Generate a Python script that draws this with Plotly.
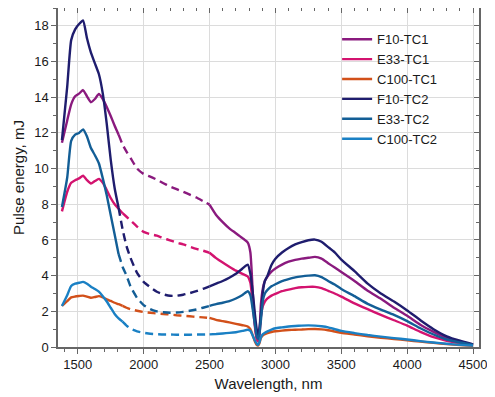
import plotly.graph_objects as go

# Wavelength grid (nm)
wavelength = [1380, 1420, 1450, 1480, 1510, 1540, 1570, 1600, 1630, 1660, 1690, 1720, 1750, 1780, 1810,
              1840, 1870, 1900, 1950, 2000, 2050, 2100, 2150, 2200, 2250, 2300, 2350, 2400, 2450, 2500,
              2550, 2600, 2650, 2700, 2750, 2790, 2810, 2830, 2845, 2858, 2868, 2878, 2890, 2905, 2920,
              2940, 2970, 3000, 3050, 3100, 3150, 3200, 3250, 3300, 3350, 3400, 3450, 3500, 3600, 3700,
              3800, 3900, 4000, 4100, 4200, 4300, 4400, 4500]

series_names = ["F10-TC1", "E33-TC1", "C100-TC1", "F10-TC2", "E33-TC2", "C100-TC2"]
series_colors = ["#8a1a7e", "#d3136f", "#d2501a", "#1f1d6e", "#135e96", "#1a80c4"]
# Interpolated (dashed) region for each series: from dash_start to dash_end
dash_start = [1810, 1840, 1840, 1810, 1810, 1840]
dash_end = 2500

f10_tc1 = [11.45, 12.7, 13.6, 14.05, 14.2, 14.4, 14.05, 13.72, 13.9, 14.18, 13.9, 13.45, 12.95, 12.4, 11.9,
           11.35, 10.95, 10.6, 10.0, 9.7, 9.55, 9.38, 9.18, 9.0, 8.85, 8.7, 8.54, 8.38, 8.18, 7.98,
           7.4, 7.0, 6.65, 6.38, 6.1, 5.85, 5.3, 2.8, 1.3, 0.5, 0.35, 0.7, 2.4, 3.3, 3.7,
           3.95, 4.22, 4.4, 4.62, 4.78, 4.88, 4.95, 5.0, 5.05, 4.95, 4.7, 4.45, 4.2, 3.7, 3.15,
           2.7, 2.2, 1.75, 1.25, 0.85, 0.5, 0.3, 0.15]

e33_tc1 = [7.6, 8.7, 9.2, 9.35, 9.45, 9.6, 9.35, 9.16, 9.3, 9.42, 9.2, 8.8, 8.35, 8.0, 7.75,
           7.5, 7.3, 7.1, 6.75, 6.45, 6.32, 6.24, 6.1, 5.98, 5.85, 5.75, 5.62, 5.5, 5.4, 5.28,
           4.98, 4.73, 4.5, 4.28, 4.1, 3.95, 3.6, 2.2, 1.1, 0.45, 0.3, 0.6, 1.7, 2.3, 2.55,
           2.72, 2.88, 2.98, 3.13, 3.22, 3.3, 3.35, 3.37, 3.37, 3.3, 3.15, 3.0, 2.82, 2.45, 2.12,
           1.8, 1.5, 1.2, 0.85, 0.55, 0.35, 0.22, 0.12]

c100_tc1 = [2.3, 2.57, 2.78, 2.83, 2.86, 2.88, 2.82, 2.76, 2.8, 2.85, 2.78, 2.67, 2.58, 2.48, 2.4,
            2.3, 2.2, 2.12, 2.03, 1.96, 1.92, 1.88, 1.85, 1.82, 1.78, 1.75, 1.72, 1.69, 1.66, 1.63,
            1.52, 1.45, 1.38, 1.3, 1.22, 1.15, 1.0, 0.6, 0.3, 0.12, 0.08, 0.2, 0.5, 0.65, 0.72,
            0.78, 0.84, 0.88, 0.92, 0.95, 0.97, 0.98, 1.0, 1.01, 0.99, 0.94, 0.87, 0.8, 0.7, 0.6,
            0.52, 0.45, 0.38, 0.3, 0.23, 0.16, 0.11, 0.07]

f10_tc2 = [11.6, 14.6, 17.2, 17.8, 18.1, 18.3, 17.3, 16.5, 15.9, 15.3, 14.2, 12.5, 10.5, 8.9, 7.8,
           6.6, 5.65, 5.0, 4.15, 3.65, 3.35, 3.1, 2.95, 2.87, 2.87, 2.93, 3.02, 3.13, 3.26, 3.4,
           3.55, 3.7, 3.88, 4.1, 4.4, 4.62, 4.1, 2.9, 1.8, 1.0, 0.65, 1.0, 1.8, 3.1, 3.7,
           4.0, 4.6, 4.95, 5.3, 5.55, 5.75, 5.88, 5.98, 6.02, 5.9, 5.6, 5.3, 4.9, 4.25, 3.55,
           3.0, 2.55, 2.05, 1.5, 1.0, 0.6, 0.35, 0.15]

e33_tc2 = [7.85, 9.5, 11.55, 11.9, 12.0, 12.2, 11.8, 11.15, 10.75, 10.3, 9.45, 8.5, 7.4, 6.3, 5.2,
           4.5, 4.0, 3.4, 2.75, 2.35, 2.12, 2.0, 1.95, 1.92, 1.93, 1.97, 2.03, 2.1, 2.2, 2.3,
           2.4, 2.48, 2.57, 2.72, 2.92, 3.13, 2.9, 2.0, 1.2, 0.6, 0.45, 0.7, 1.5, 2.6, 3.0,
           3.2, 3.4, 3.52, 3.69, 3.8, 3.9, 3.96, 4.0, 4.02, 3.92, 3.7, 3.5, 3.25, 2.85, 2.42,
           2.1, 1.8, 1.45, 1.05, 0.7, 0.42, 0.25, 0.12]

c100_tc2 = [2.3, 2.9, 3.42, 3.55, 3.6, 3.65, 3.55, 3.38, 3.25, 3.1, 2.85, 2.55, 2.2, 1.85, 1.6,
            1.42, 1.2, 1.03, 0.88, 0.8, 0.74, 0.72, 0.7, 0.7, 0.69, 0.69, 0.69, 0.7, 0.7, 0.71,
            0.73, 0.76, 0.79, 0.83, 0.9, 0.97, 0.9, 0.6, 0.35, 0.18, 0.12, 0.25, 0.55, 0.72, 0.8,
            0.88, 0.98, 1.05, 1.1, 1.15, 1.18, 1.2, 1.21, 1.2, 1.16, 1.1, 1.0, 0.9, 0.78, 0.67,
            0.58, 0.5, 0.42, 0.33, 0.25, 0.18, 0.12, 0.08]

series_values = [f10_tc1, e33_tc1, c100_tc1, f10_tc2, e33_tc2, c100_tc2]

x_ticks = [1500, 2000, 2500, 3000, 3500, 4000, 4500]
y_ticks = [0, 2, 4, 6, 8, 10, 12, 14, 16, 18]

FONT = "Liberation Sans, Arial, sans-serif"
LW = 2.4

fig = go.Figure()
for name, color, vals, ds in zip(series_names, series_colors, series_values, dash_start):
    sx, sy, dx, dy = [], [], [], []
    gap_added = False
    for w, v in zip(wavelength, vals):
        if w <= ds or w >= dash_end:
            if w >= dash_end and not gap_added:
                sx.append(None); sy.append(None); gap_added = True
            sx.append(w); sy.append(v)
        if ds <= w <= dash_end:
            dx.append(w); dy.append(v)
    fig.add_trace(go.Scatter(x=sx, y=sy, mode="lines", name=name, connectgaps=False,
                             line=dict(color=color, width=LW, shape="spline", smoothing=0.5)))
    fig.add_trace(go.Scatter(x=dx, y=dy, mode="lines", name=name, showlegend=False,
                             line=dict(color=color, width=LW, dash="8px,5px", shape="spline", smoothing=0.5)))

# invisible trace for mirrored inside ticks on top/right
fig.add_trace(go.Scatter(x=[None], y=[None], xaxis="x2", yaxis="y2", showlegend=False, hoverinfo="skip"))

xr = [1350, 4545]
yr = [0, 19]
axcol = "#666666"
# page body has a default 8px margin, so the figure is sized to fit the 495x397 window
fig.update_layout(
    width=487, height=389,
    margin=dict(l=50, r=16, t=0, b=50, autoexpand=False),
    paper_bgcolor="white", plot_bgcolor="white",
    font=dict(family=FONT, size=13, color="#1a1a1a"),
    showlegend=True,
    legend=dict(x=0.663, y=0.952, xanchor="left", yanchor="top",
                font=dict(family=FONT, size=13, color="#1a1a1a"),
                bgcolor="rgba(255,255,255,0)", borderwidth=0, tracegroupgap=0),
    xaxis=dict(range=xr, tickvals=x_ticks, ticks="outside", ticklen=5, tickwidth=1, tickcolor=axcol,
               showline=True, linecolor=axcol, linewidth=1.5, mirror=True, automargin=False,
               showgrid=True, gridcolor="#dcdcdc", gridwidth=1, zeroline=False,
               minor=dict(dtick=100, tick0=1400, ticks="outside", ticklen=3, tickcolor=axcol, showgrid=False),
               title=dict(text="Wavelength, nm", font=dict(size=15), standoff=7),
               tickfont=dict(size=13)),
    yaxis=dict(range=yr, tickvals=y_ticks, ticks="outside", ticklen=5, tickwidth=1, tickcolor=axcol,
               showline=True, linecolor=axcol, linewidth=1.5, mirror=True, automargin=False,
               showgrid=True, gridcolor="#dcdcdc", gridwidth=1, zeroline=False,
               minor=dict(dtick=1, ticks="outside", ticklen=3, tickcolor=axcol, showgrid=False),
               title=dict(text="Pulse energy, mJ", font=dict(size=15), standoff=6),
               tickfont=dict(size=13)),
    xaxis2=dict(range=xr, overlaying="x", side="top", anchor="y2", tickvals=x_ticks, ticks="inside",
                ticklen=5, tickcolor=axcol, showticklabels=False, showgrid=False, zeroline=False, showline=False,
                automargin=False,
                minor=dict(dtick=100, tick0=1400, ticks="inside", ticklen=3, tickcolor=axcol, showgrid=False)),
    yaxis2=dict(range=yr, overlaying="y", side="right", anchor="x2", tickvals=y_ticks, ticks="inside",
                ticklen=5, tickcolor=axcol, showticklabels=False, showgrid=False, zeroline=False, showline=False,
                automargin=False,
                minor=dict(dtick=1, ticks="inside", ticklen=3, tickcolor=axcol, showgrid=False)),
)

fig.write_html("out.html")
